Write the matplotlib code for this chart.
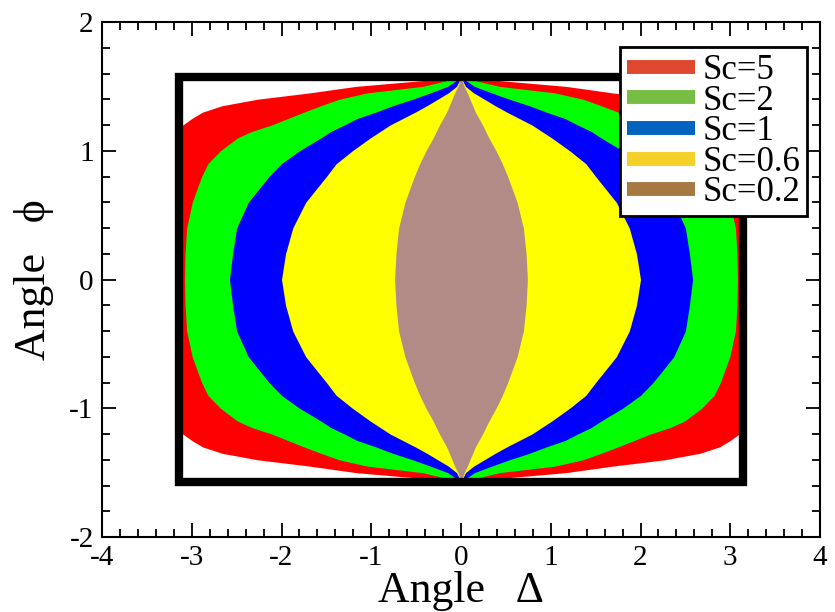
import numpy as np
import matplotlib
matplotlib.use("Agg")
import matplotlib.pyplot as plt
from matplotlib.patches import Rectangle
from matplotlib.lines import Line2D

# ---------------- data (upper-right quadrant, mirrored by symmetry) ----------------
# phi levels (0 .. pi/2) and the half-width in Delta of each stable region at that phi
phi_levels = [0.0, 0.2, 0.4, 0.6, 0.8, 0.9, 1.0, 1.1, 1.15, 1.2, 1.25, 1.3, 1.35, 1.4, 1.45, 1.5, 1.5708]
halfwidth_sc5 = [3.1416, 3.1416, 3.1416, 3.1416, 3.1416, 3.1416, 3.1416, 3.1416, 3.1416, 3.10, 3.00, 2.88, 2.66, 2.27, 1.68, 1.17, 0.0]
halfwidth_sc2 = [3.08, 3.075, 3.057, 2.995, 2.89, 2.82, 2.68, 2.49, 2.33, 2.11, 1.93, 1.75, 1.56, 1.36, 1.04, 0.43, 0.0]
halfwidth_sc1 = [2.58, 2.545, 2.50, 2.37, 2.14, 2.00, 1.80, 1.56, 1.45, 1.30, 1.16, 0.95, 0.76, 0.54, 0.34, 0.15, 0.0]
halfwidth_sc06 = [2.0, 1.955, 1.875, 1.73, 1.50, 1.39, 1.21, 1.01, 0.90, 0.79, 0.65, 0.51, 0.38, 0.26, 0.14, 0.05, 0.0]
halfwidth_sc02 = [0.74, 0.725, 0.695, 0.625, 0.52, 0.46, 0.39, 0.31, 0.275, 0.24, 0.20, 0.16, 0.13, 0.10, 0.07, 0.035, 0.0]

series_labels = ["Sc=5", "Sc=2", "Sc=1", "Sc=0.6", "Sc=0.2"]
series_halfwidths = [halfwidth_sc5, halfwidth_sc2, halfwidth_sc1, halfwidth_sc06, halfwidth_sc02]
fill_colors = ["#FF0000", "#00FF00", "#0000FF", "#FFFF00", "#B38B86"]
legend_colors = ["#DE482E", "#76BE43", "#0063BE", "#F5D028", "#A67942"]

DELTA_MAX = np.pi
PHI_MAX = np.pi / 2

x_ticks = [-4, -3, -2, -1, 0, 1, 2, 3, 4]
y_ticks = [-2, -1, 0, 1, 2]

# ---------------- figure ----------------
W, H = 835, 612
fig = plt.figure(figsize=(W / 100, H / 100), dpi=100)
ax = fig.add_axes([102 / W, 1 - 537 / H, (820 - 102) / W, (537 - 22) / H])

serif = ["Liberation Serif", "DejaVu Serif"]

phi_pos = np.array(phi_levels)
phi_full = np.concatenate([-phi_pos[::-1], phi_pos[1:]])
for hw, col in zip(series_halfwidths, fill_colors):
    w = np.array(hw)
    w_full = np.concatenate([w[::-1], w[1:]])
    ax.fill_betweenx(phi_full, -w_full, w_full, color=col, lw=0, zorder=1)

ax.add_patch(Rectangle((-DELTA_MAX, -PHI_MAX), 2 * DELTA_MAX, 2 * PHI_MAX,
                       fill=False, ec="black", lw=6, zorder=3, joinstyle="miter"))

ax.set_xlim(-4, 4)
ax.set_ylim(-2, 2)
ax.set_xticks(x_ticks)
ax.set_yticks(y_ticks)
ax.set_xticklabels([str(t) for t in x_ticks], family=serif, fontsize=21)
ax.set_yticklabels([str(t) for t in y_ticks], family=serif, fontsize=21)
ax.xaxis.set_minor_locator(matplotlib.ticker.MultipleLocator(0.2))
ax.yaxis.set_minor_locator(matplotlib.ticker.MultipleLocator(0.2))
ax.tick_params(which="both", direction="in", top=True, right=True, width=1.3, colors="black")
ax.tick_params(which="major", length=10)
ax.tick_params(which="minor", length=6)
ax.tick_params(axis="x", which="major", pad=6)
ax.tick_params(axis="y", which="major", pad=6)
for sp in ax.spines.values():
    sp.set_linewidth(1.5)
    sp.set_zorder(5)

ax.set_xlabel("Angle  \u2009\u0394", family=serif, fontsize=31.5, labelpad=0)
ax.set_ylabel("Angle  \u2009\u03d5", family=serif, fontsize=31.5, labelpad=11)

handles = [Line2D([], [], color=c, lw=10, solid_capstyle="butt") for c in legend_colors]
leg = ax.legend(handles, series_labels, loc="upper right",
                bbox_to_anchor=(807 / W, 1 - 47 / H), bbox_transform=fig.transFigure,
                prop={"family": serif, "size": 25}, frameon=True, fancybox=False,
                edgecolor="black", framealpha=1, handlelength=1.96, handletextpad=0.2,
                labelspacing=-0.07, borderpad=0.2, borderaxespad=0)
leg.get_frame().set_linewidth(2)
leg.set_zorder(10)

fig.savefig("out.png", dpi=100)
